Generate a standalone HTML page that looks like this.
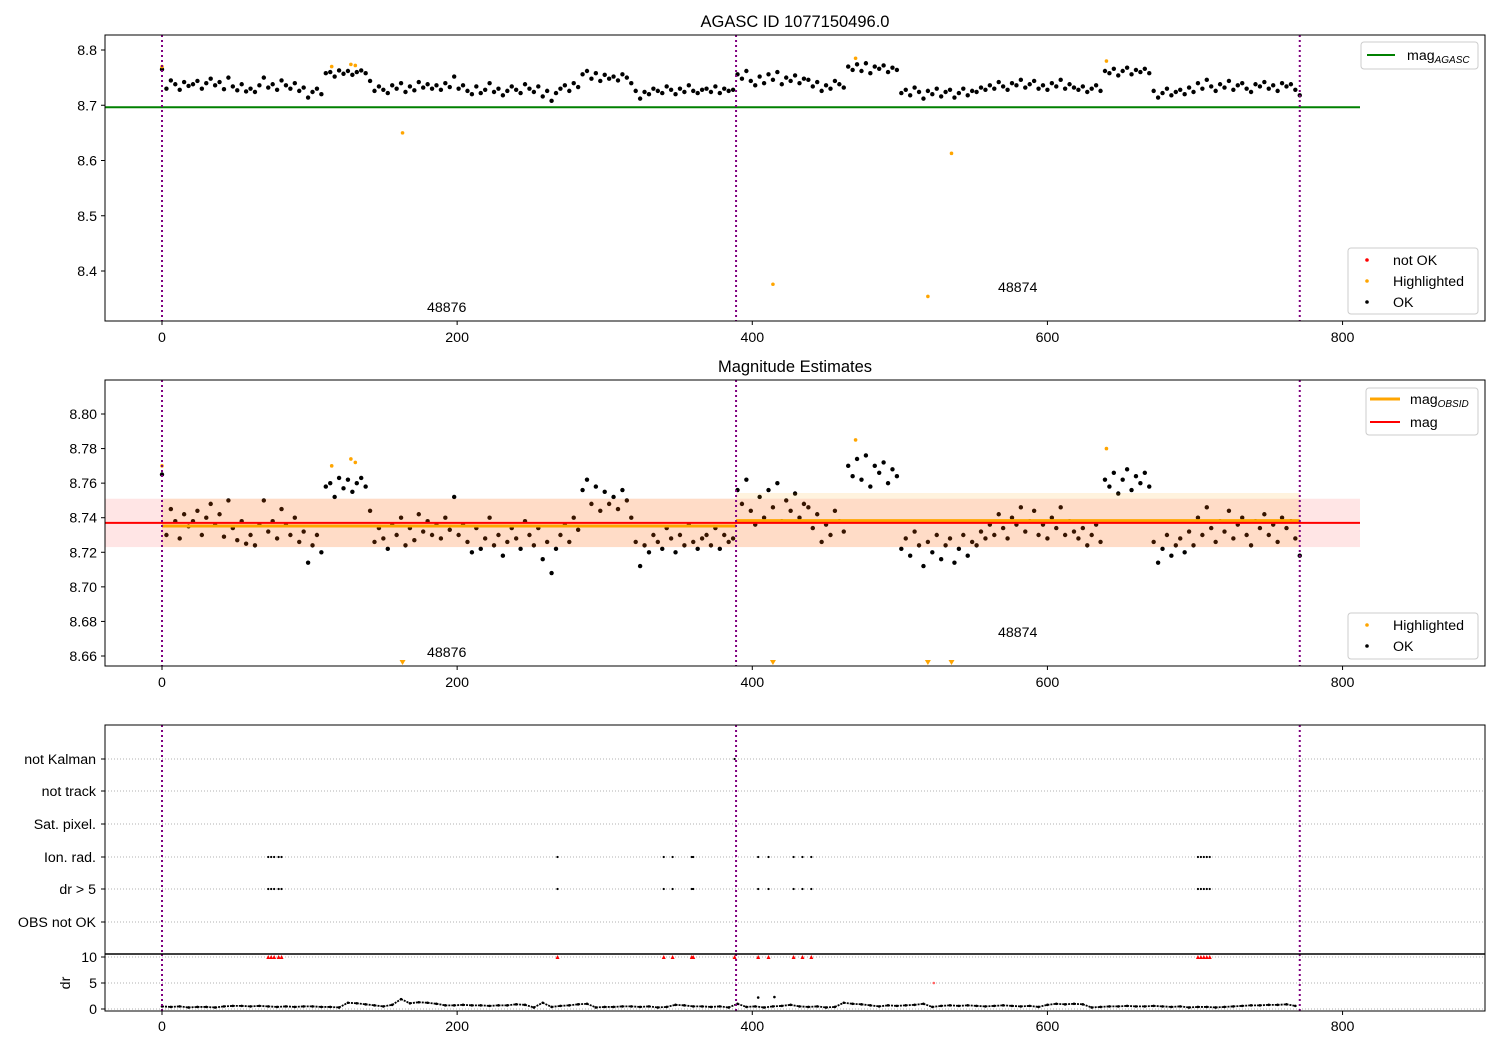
<!DOCTYPE html>
<html><head><meta charset="utf-8">
<style>
body{margin:0;background:#fff;}
svg{display:block;font-family:"Liberation Sans","DejaVu Sans",sans-serif;}
</style></head>
<body>
<svg id="chart" width="1500" height="1050" viewBox="0 0 1500 1050" xmlns="http://www.w3.org/2000/svg">
<defs>
<clipPath id="c1"><rect x="105" y="35" width="1380" height="286"/></clipPath>
<clipPath id="c2"><rect x="105" y="380" width="1380" height="286"/></clipPath>
<clipPath id="c3"><rect x="105" y="954" width="1380" height="57"/></clipPath>
</defs>
<rect width="1500" height="1050" fill="#fff"/>
<text x="795" y="27" font-size="16.5" text-anchor="middle">AGASC ID 1077150496.0</text>
<text x="795" y="372" font-size="16.5" text-anchor="middle">Magnitude Estimates</text>
<g id="p1"></g>
<g id="p2"></g>
<g id="p3"></g>
<g id="p4"></g>
</svg>
<script>
// ---- data ----
const magStep = 3;
const magOffsetMmag = [65,30,45,38,28,42,35,38,44,30,40,48,36,42,29,50,34,27,38,25,30,24,36,50,32,38,28,45,36,30,40,26,32,14,24,30,20,
58,60,52,63,57,62,55,60,63,58,
44,26,34,28,22,36,30,40,24,34,27,42,32,38,30,36,28,40,33,52,
30,36,26,20,34,22,28,40,24,30,18,26,34,28,22,38,30,24,34,16,26,8,22,
30,36,26,40,33,
56,62,48,58,44,55,48,52,45,56,50,40,
26,12,24,20,30,26,22,34,28,20,30,24,36,26,22,28,30,24,34,22,30,26,28,
56,48,62,44,36,52,40,56,46,60,38,50,44,54,40,48,46,
34,42,26,36,30,44,38,32,
70,64,74,62,76,58,70,66,72,60,68,64,
22,28,18,32,24,12,26,20,30,16,24,28,14,22,30,18,26,24,32,28,
36,30,42,34,28,40,36,46,32,38,44,30,36,28,40,34,46,30,38,32,
28,34,24,30,36,26,
62,58,66,54,62,68,56,64,60,66,58,
26,14,22,30,18,24,28,20,32,24,
40,30,46,34,26,38,32,44,28,36,40,30,24,38,34,42,30,36,26,40,34,38,28,18];
const highX = [0,115,128,131,163,414,470,519,535,640];
const highMag = [8.770,8.770,8.774,8.772,8.650,8.376,8.785,8.354,8.613,8.780];
const obsBounds = [0,389,771];
const obsLabels = ["48876","48874"];
const magAgasc = 8.6964;
const magMean = 8.737, magErr = 0.014;
const obsMag = [8.7352, 8.7383];
const obsLo = [8.723, 8.723];
const obsHi = [8.751, 8.7543];
const drStep = 6;
const drValues = [0.5,0.4,0.5,0.3,0.4,0.4,0.3,0.5,0.6,0.6,0.5,0.6,0.5,0.4,0.5,0.4,0.5,0.5,0.4,0.4,0.3,
1.2,1.1,0.9,0.7,0.5,0.8,1.9,1.1,1.3,1.2,1.0,0.7,0.7,0.8,0.7,0.7,0.6,0.7,0.7,0.9,0.8,0.3,1.2,
0.4,0.6,0.7,0.9,1.0,0.3,0.4,0.4,0.5,0.5,0.4,0.5,0.3,0.4,0.8,0.7,0.5,0.5,0.4,0.5,0.3,1.0,
0.4,0.5,0.3,0.5,0.6,0.8,0.5,0.4,0.5,0.3,0.4,1.2,1.0,0.9,0.7,0.5,0.7,0.6,0.7,0.8,1.0,
0.4,0.6,0.7,0.6,0.7,0.6,0.5,0.6,0.7,0.6,0.5,0.6,0.4,0.8,1.0,0.9,1.0,0.9,
0.3,0.4,0.5,0.5,0.6,0.5,0.5,0.6,0.5,0.4,0.5,0.3,0.4,0.4,0.3,0.4,0.5,0.6,0.7,0.7,0.8,0.8,0.9,0.6];
const drOutX = [404,415];
const drOutVal = [2.2,2.3];
const notOkX = [523];
const notOkDr = [5.0];
const flagX = [72,74,76,79,81,268,340,346,359,360,404,411,428,434,440,702,704,706,708,710];
const clipX = [72,74,76,79,81,268,340,346,359,360,388,404,411,428,434,440,702,704,706,708,710];
const notKalmanX = [388];
const flagNames = ["not Kalman","not track","Sat. pixel.","Ion. rad.","dr > 5","OBS not OK"];
const xTicks = [0,200,400,600,800];
const y1Ticks = [8.4,8.5,8.6,8.7,8.8];
const y2Ticks = [8.66,8.68,8.70,8.72,8.74,8.76,8.78,8.80];
const drTicks = [0,5,10];

// ---- scales ----
const X = u => 162 + u*1.4757;
const Y1 = m => 50 + (8.8-m)*552.5;
const Y2 = m => 414 + (8.8-m)*1728.5;
const Yd = d => 1009 - d*5.2;
const rowY = [759,791,824,857,889,922];
const FS = 14.2;
const NS="http://www.w3.org/2000/svg";
function mk(parent,tag,attrs,text){const e=document.createElementNS(NS,tag);for(const k in attrs)e.setAttribute(k,attrs[k]);if(text!==undefined)e.textContent=text;parent.appendChild(e);return e;}
const mags = magOffsetMmag.map(v=>8.7+v/1000);

function xAxis(g,top,bot,labY){
  for(const t of xTicks){
    const l=mk(g,'line',{x1:X(t),x2:X(t),y1:bot,y2:bot+4,stroke:'#000'});
    
    
    const tx=mk(g,'text',{x:X(t),y:labY,'font-size':FS,'text-anchor':'middle'},String(t));
    
    
  }
}
function frame(g,top,bot){
  const r=mk(g,'rect',{x:105,y:top,width:1380,height:bot-top,fill:'none',stroke:'#000','stroke-width':1});
  
  
}
function vlines(g,top,bot){
  for(const b of obsBounds){
    const l=mk(g,'line',{x1:X(b),x2:X(b),y1:top,y2:bot,stroke:'#800080','stroke-width':2,'stroke-dasharray':'2,3'});
    
    
  }
}
function legendBox(g,x,y,w,h){
  const r=mk(g,'rect',{x:x,y:y,width:w,height:h,rx:3,fill:'#fff','fill-opacity':0.85,stroke:'#ccc'});
  
  
}
function legendDot(g,x,y,color,label){
  const c=mk(g,'circle',{cx:x,cy:y,r:1.8,fill:color});
  
  
  const t=mk(g,'text',{x:x+26,y:y+5,'font-size':FS},label);
  
  
}

// ---- panel 1 ----
const p1=document.getElementById('p1');
const g1=mk(p1,'g',{'clip-path':'url(#c1)'});
const gl=mk(g1,'line',{x1:105,x2:1360,y1:Y1(magAgasc),y2:Y1(magAgasc),stroke:'#008000','stroke-width':2});


mags.forEach((m,i)=>{
  const c=mk(g1,'circle',{cx:X(i*magStep),cy:Y1(m),r:2.2,fill:'#000'});
  
  
});
highX.forEach((u,i)=>{
  const c=mk(g1,'circle',{cx:X(u),cy:Y1(highMag[i]),r:1.8,fill:'#ffa500'});
  
  
});
vlines(g1,35,321);
frame(p1,35,321);
y1Ticks.forEach(t=>{
  const l=mk(p1,'line',{x1:101,x2:105,y1:Y1(t),y2:Y1(t),stroke:'#000'});
  
  
  const tx=mk(p1,'text',{x:97,y:Y1(t)+5,'font-size':FS,'text-anchor':'end'},t.toFixed(1));
  
  
});
xAxis(p1,35,321,342);
let a=mk(p1,'text',{x:427,y:312,'font-size':FS},obsLabels[0]);


a=mk(p1,'text',{x:998,y:292,'font-size':FS},obsLabels[1]);


legendBox(p1,1361,42,117,27);
let ll=mk(p1,'line',{x1:1367,x2:1395,y1:55,y2:55,stroke:'#008000','stroke-width':2});


let lt=mk(p1,'text',{x:1407,y:60,'font-size':FS},'mag');


mk(lt,'tspan',{'font-size':10,'font-style':'italic',dy:3},'AGASC');
legendBox(p1,1348,248,130,66);
legendDot(p1,1367,260,'#ff0000','not OK');
legendDot(p1,1367,281,'#ffa500','Highlighted');
legendDot(p1,1367,302,'#000','OK');

// ---- panel 2 ----
const p2=document.getElementById('p2');
const g2=mk(p2,'g',{'clip-path':'url(#c2)'});
mags.forEach((m,i)=>{
  const c=mk(g2,'circle',{cx:X(i*magStep),cy:Y2(m),r:2.2,fill:'#000'});
  
  
});
highX.forEach((u,i)=>{
  const m=highMag[i];
  if(m>=8.655){
    const c=mk(g2,'circle',{cx:X(u),cy:Y2(m),r:1.8,fill:'#ffa500'});
    
    
  } else {
    const x=X(u);
    const t=mk(g2,'path',{d:`M${x-3},660 L${x+3},660 L${x},665 Z`,fill:'#ffa500'});
    
    
  }
});
let band=mk(g2,'rect',{x:105,y:Y2(magMean+magErr),width:1255,height:Y2(magMean-magErr)-Y2(magMean+magErr),fill:'#ff0000','fill-opacity':0.1});


for(let i=0;i<2;i++){
  const x1=X(obsBounds[i]),x2=X(obsBounds[i+1]);
  const b=mk(g2,'rect',{x:x1,y:Y2(obsHi[i]),width:x2-x1,height:Y2(obsLo[i])-Y2(obsHi[i]),fill:'#ffa500','fill-opacity':0.13});
  
  
  const l=mk(g2,'line',{x1:x1,x2:x2,y1:Y2(obsMag[i]),y2:Y2(obsMag[i]),stroke:'#ffa500','stroke-width':3});
  
  
}
let rl=mk(g2,'line',{x1:105,x2:1360,y1:Y2(magMean),y2:Y2(magMean),stroke:'#ff0000','stroke-width':2});


vlines(g2,380,666);
frame(p2,380,666);
y2Ticks.forEach(t=>{
  const l=mk(p2,'line',{x1:101,x2:105,y1:Y2(t),y2:Y2(t),stroke:'#000'});
  
  
  const tx=mk(p2,'text',{x:97,y:Y2(t)+5,'font-size':FS,'text-anchor':'end'},t.toFixed(2));
  
  
});
xAxis(p2,380,666,687);
a=mk(p2,'text',{x:427,y:657,'font-size':FS},obsLabels[0]);


a=mk(p2,'text',{x:998,y:637,'font-size':FS},obsLabels[1]);


legendBox(p2,1366,388,112,47);
ll=mk(p2,'line',{x1:1370,x2:1400,y1:399,y2:399,stroke:'#ffa500','stroke-width':3});


lt=mk(p2,'text',{x:1410,y:404,'font-size':FS},'mag');


mk(lt,'tspan',{'font-size':10,'font-style':'italic',dy:3},'OBSID');
ll=mk(p2,'line',{x1:1370,x2:1400,y1:422,y2:422,stroke:'#ff0000','stroke-width':2});


lt=mk(p2,'text',{x:1410,y:427,'font-size':FS},'mag');


legendBox(p2,1348,613,130,46);
legendDot(p2,1367,625,'#ffa500','Highlighted');
legendDot(p2,1367,646,'#000','OK');

// ---- panel 3 (flags) ----
const p3=document.getElementById('p3');
rowY.forEach((y,i)=>{
  const l=mk(p3,'line',{x1:105,x2:1485,y1:y,y2:y,stroke:'#b0b0b0','stroke-dasharray':'1,2'});
  
  
  const tk=mk(p3,'line',{x1:101,x2:105,y1:y,y2:y,stroke:'#000'});
  
  
  const t=mk(p3,'text',{x:96,y:y+5,'font-size':FS,'text-anchor':'end'},flagNames[i]);
  
  
});
flagX.forEach(u=>{
  [3,4].forEach(r=>{
    const c=mk(p3,'circle',{cx:X(u),cy:rowY[r],r:1.1,fill:'#000'});
    
    
  });
});
notKalmanX.forEach(u=>{
  const c=mk(p3,'circle',{cx:X(u),cy:rowY[0],r:1.1,fill:'#000'});
  
  
});
vlines(p3,725,954);
let f3=mk(p3,'path',{d:'M105,954 L105,725 L1485,725 L1485,954',fill:'none',stroke:'#000'});



// ---- panel 4 (dr) ----
const p4=document.getElementById('p4');
const g4=mk(p4,'g',{'clip-path':'url(#c3)'});
drTicks.forEach(t=>{
  const l=mk(g4,'line',{x1:105,x2:1485,y1:Yd(t),y2:Yd(t),stroke:'#b0b0b0','stroke-dasharray':'1,2'});
  
  
});
drValues.forEach((d,i)=>{
  const c=mk(g4,'circle',{cx:X(i*drStep),cy:Yd(d),r:1.3,fill:'#000'});
  
  
  if(i<drValues.length-1){
    const l=mk(g4,'line',{x1:X(i*drStep),y1:Yd(d),x2:X((i+1)*drStep),y2:Yd(drValues[i+1]),stroke:'#000','stroke-width':1.8,'stroke-dasharray':'2,1'});
    
    
  }
});
drOutX.forEach((u,i)=>{
  const c=mk(g4,'circle',{cx:X(u),cy:Yd(drOutVal[i]),r:1.3,fill:'#000'});
  
  
});
notOkX.forEach((u,i)=>{
  const c=mk(g4,'circle',{cx:X(u),cy:Yd(notOkDr[i]),r:1.3,fill:'#ff6060'});
  
  
});
clipX.forEach(u=>{
  const x=X(u),y=Yd(10);
  const t=mk(g4,'path',{d:`M${x-2},${y+2} L${x+2},${y+2} L${x},${y-2} Z`,fill:'#ff0000'});
  
  
});
vlines(g4,954,1011);
let f4=mk(p4,'rect',{x:105,y:954,width:1380,height:57,fill:'none',stroke:'#000','stroke-width':1});


let sep=mk(p4,'line',{x1:105,x2:1485,y1:954,y2:954,stroke:'#000','stroke-width':1.5});


drTicks.forEach(t=>{
  const l=mk(p4,'line',{x1:101,x2:105,y1:Yd(t),y2:Yd(t),stroke:'#000'});
  
  
  const tx=mk(p4,'text',{x:97,y:Yd(t)+5,'font-size':FS,'text-anchor':'end'},String(t));
  
  
});
let dl=mk(p4,'text',{x:70,y:983,'font-size':FS,'text-anchor':'middle',transform:'rotate(-90 70 983)'},'dr');


xAxis(p4,954,1011,1031);
</script>
</body></html>
